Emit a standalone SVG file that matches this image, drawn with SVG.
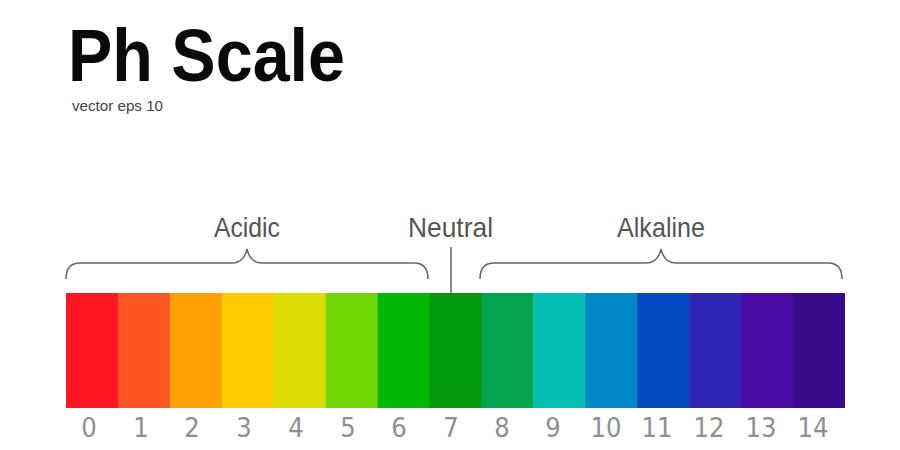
<svg xmlns="http://www.w3.org/2000/svg" width="900" height="450" viewBox="0 0 900 450">
  <style>
    .title { font-family: "Liberation Sans", Arial, sans-serif; font-weight: bold; font-size: 74px; fill: #0a0a0a; }
    .sub { font-family: "Liberation Sans", Arial, sans-serif; font-size: 14px; fill: #444; }
    .lbl { font-family: "Liberation Sans", Arial, sans-serif; font-size: 28px; fill: #555; text-anchor: middle; }
    .num { font-family: "DejaVu Sans Condensed", "DejaVu Sans", sans-serif; font-stretch: condensed; font-size: 27px; fill: #8f8f8f; text-anchor: middle; }
    .brace { fill: none; stroke: #666; stroke-width: 1.5; }
  </style>
  <rect width="900" height="450" fill="#ffffff"/>
  <g id="title">
    <text class="title" x="68" y="81" textLength="277" lengthAdjust="spacingAndGlyphs">Ph Scale</text>
    <text class="sub" x="72" y="111" textLength="91" lengthAdjust="spacingAndGlyphs">vector eps 10</text>
  </g>
  <g id="label-acidic"><text class="lbl" x="247" y="237" textLength="66" lengthAdjust="spacingAndGlyphs">Acidic</text></g>
  <g id="label-neutral"><text class="lbl" x="450.5" y="237" textLength="85" lengthAdjust="spacingAndGlyphs">Neutral</text></g>
  <g id="label-alkaline"><text class="lbl" x="661" y="237" textLength="88" lengthAdjust="spacingAndGlyphs">Alkaline</text></g>
  <g id="connectors">
    <path class="brace" d="M66,279 C66,269 70,263 80,263 L232,263 C241,263 245,258 247,249 C249,258 253,263 262,263 L414,263 C424,263 428,269 428,279"/>
    <path class="brace" d="M451,247 L451,293"/>
    <path class="brace" d="M480,279 C480,269 484,263 494,263 L646,263 C655,263 659,258 661,249 C663,258 667,263 676,263 L828,263 C838,263 842,269 842,279"/>
  </g>
  <g id="bar">
    <rect id="ph0" x="66" y="293" width="52.5" height="115" fill="#fe1723"/>
    <rect id="ph1" x="117.9" y="293" width="52.5" height="115" fill="#fe5522"/>
    <rect id="ph2" x="169.9" y="293" width="52.5" height="115" fill="#fea004"/>
    <rect id="ph3" x="221.8" y="293" width="52.5" height="115" fill="#fecb03"/>
    <rect id="ph4" x="273.7" y="293" width="52.5" height="115" fill="#dadc03"/>
    <rect id="ph5" x="325.6" y="293" width="52.5" height="115" fill="#70d606"/>
    <rect id="ph6" x="377.6" y="293" width="52.5" height="115" fill="#02b705"/>
    <rect id="ph7" x="429.5" y="293" width="52.5" height="115" fill="#02980c"/>
    <rect id="ph8" x="481.4" y="293" width="52.5" height="115" fill="#03a350"/>
    <rect id="ph9" x="533.4" y="293" width="52.5" height="115" fill="#04c0b4"/>
    <rect id="ph10" x="585.3" y="293" width="52.5" height="115" fill="#0287c6"/>
    <rect id="ph11" x="637.2" y="293" width="52.5" height="115" fill="#0349c2"/>
    <rect id="ph12" x="689.1" y="293" width="52.5" height="115" fill="#3024b6"/>
    <rect id="ph13" x="741.1" y="293" width="52.5" height="115" fill="#4b0ca6"/>
    <rect id="ph14" x="793" y="293" width="52" height="115" fill="#390a8c"/>
  </g>
  <g id="numbers">
    <text class="num" x="89" y="437">0</text>
    <text class="num" x="141" y="437">1</text>
    <text class="num" x="192" y="437">2</text>
    <text class="num" x="244" y="437">3</text>
    <text class="num" x="296" y="437">4</text>
    <text class="num" x="348" y="437">5</text>
    <text class="num" x="399" y="437">6</text>
    <text class="num" x="451" y="437">7</text>
    <text class="num" x="502" y="437">8</text>
    <text class="num" x="553" y="437">9</text>
    <text class="num" x="606" y="437">10</text>
    <text class="num" x="657" y="437">11</text>
    <text class="num" x="709" y="437">12</text>
    <text class="num" x="761" y="437">13</text>
    <text class="num" x="813" y="437">14</text>
  </g>
</svg>
